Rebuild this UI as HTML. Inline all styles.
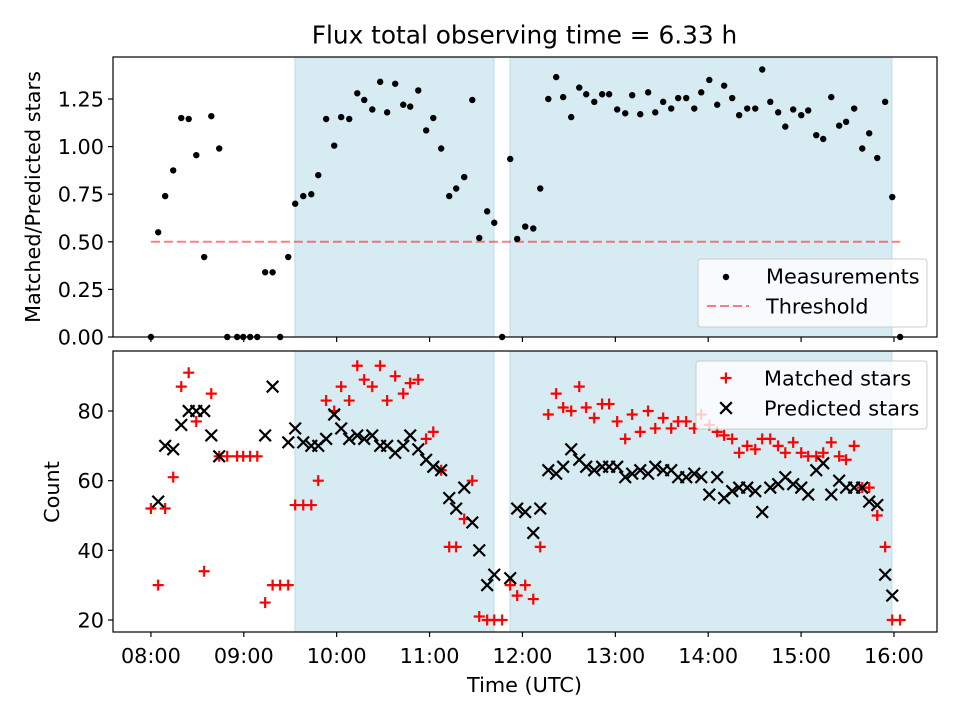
<!DOCTYPE html>
<html><head><meta charset="utf-8"><style>
body{margin:0;background:#fff;}
svg{display:block;font-family:"DejaVu Sans","Liberation Sans",sans-serif;}
</style></head><body>
<svg id="chart" width="960" height="720" viewBox="0 0 960 720" xmlns="http://www.w3.org/2000/svg"></svg>
<script>
// minutes since 08:00
const times=[0,4.7,9.2,14.4,19.6,24.4,29.3,34.4,39.0,44.1,49.3,55.7,59.6,64.1,68.7,73.8,78.6,83.5,88.7,93.2,98.4,103.6,108.1,113.2,118.4,122.9,128.1,133.3,137.8,143.0,148.1,152.6,157.8,163.0,167.5,172.7,177.8,182.4,187.5,192.7,197.2,202.4,207.6,212.1,217.2,221.8,226.9,232.1,236.6,241.8,247.0,251.5,256.7,261.8,266.3,271.5,276.7,281.2,286.4,291.5,296.0,301.2,306.4,310.9,316.1,321.2,325.8,330.9,336.1,340.6,345.8,351.0,355.5,360.7,365.8,370.3,375.5,380.0,385.2,390.4,394.9,400.1,405.2,409.8,414.9,420.1,424.6,429.8,434.3,439.5,444.6,449.1,454.3,459.5,464.0,469.2,474.3,478.9,484.0];
const ratio=[0,0.55,0.74,0.875,1.15,1.145,0.955,0.42,1.16,0.99,0,0,0,0,0,0.34,0.34,0,0.42,0.70,0.74,0.75,0.85,1.145,1.005,1.155,1.145,1.28,1.245,1.195,1.34,1.18,1.33,1.22,1.21,1.295,1.085,1.15,0.99,0.74,0.78,0.84,1.245,0.52,0.66,0.60,0,0.935,0.515,0.58,0.57,0.78,1.25,1.365,1.26,1.155,1.31,1.275,1.235,1.275,1.275,1.195,1.175,1.27,1.17,1.285,1.18,1.235,1.20,1.255,1.255,1.20,1.285,1.35,1.22,1.32,1.255,1.165,1.20,1.20,1.405,1.235,1.18,1.105,1.195,1.165,1.19,1.06,1.04,1.26,1.11,1.13,1.20,0.99,1.07,0.94,1.235,0.735,0];
const matched=[52,30,52,61,87,91,77,34,85,67,67,67,67,67,67,25,30,30,30,53,53,53,60,83,80,87,83,93,89,87,93,83,90,85,88,89,72,74,63,41,41,49,60,21,20,20,20,30,27,30,26,41,79,85,81,80,87,81,78,82,82,77,72,79,74,80,75,78,75,77,77,75,79,76,74,73,72,68,70,69,72,72,70,68,71,68,67,67,68,71,67,66,70,58,58,50,41,20,20];
const predicted=[null,54,70,69,76,80,80,80,73,67,null,null,null,null,null,73,87,null,71,75,71,70,70,72,79,75,72,73,72,73,70,70,68,70,73,69,66,64,63,55,52,58,48,40,30,33,null,32,52,51,45,52,63,62,64,69,66,64,63,64,64,64,61,62,63,62,64,63,63,61,61,62,61,56,61,55,57,58,58,57,51,58,59,61,59,58,56,63,65,56,60,58,58,58,54,53,33,27,null];
const xTickLabels=["08:00","09:00","10:00","11:00","12:00","13:00","14:00","15:00","16:00"];
const xTickMins=[0,60,120,180,240,300,360,420,480];
const topTicks=[0,0.25,0.5,0.75,1.0,1.25];
const botTicks=[20,40,60,80];
const spans=[[93.0,221.6],[231.9,478.7]];
const threshold=0.5;

const svg=document.getElementById('chart');
const NS="http://www.w3.org/2000/svg";
const FS=20.8;
function mk(t,a,parent){const e=document.createElementNS(NS,t);for(const k in a)e.setAttribute(k,a[k]);(parent||svg).appendChild(e);return e;}
const L=113,R=937;
const xMin=-24.5,xMax=507.8;
const X=m=>L+(m-xMin)/(xMax-xMin)*(R-L);
const T={top:57,bot:337,min:0,max:1.4706};
const B={top:351,bot:632,min:16.55,max:97.23};
const YT=v=>T.bot-(v-T.min)/(T.max-T.min)*(T.bot-T.top);
const YB=v=>B.bot-(v-B.min)/(B.max-B.min)*(B.bot-B.top);

function panel(P,Y,ticks,fmt,name){
  const g=mk('g',{});
  
  
  spans.forEach((s,i)=>{
    const r=mk('rect',{x:X(s[0]),y:P.top,width:X(s[1])-X(s[0]),height:P.bot-P.top,fill:'#add8e6','fill-opacity':0.5,stroke:'#add8e6','stroke-opacity':0.8,'stroke-width':1},g);
    
    
  });
  ticks.forEach(v=>{
    const y=Y(v);
    mk('line',{x1:L-5,x2:L,y1:y,y2:y,stroke:'#000','stroke-width':1.2},g);
    const t=mk('text',{x:L-9,y:y+7.5,'text-anchor':'end','font-size':FS,fill:'#000'},g);
    t.textContent=fmt(v);
    
    
  });
  xTickMins.forEach(m=>mk('line',{x1:X(m),x2:X(m),y1:P.bot,y2:P.bot+5,stroke:'#000','stroke-width':1.2},g));
  return g;
}
const gTop=panel(T,YT,topTicks,v=>v.toFixed(2),'top-panel');
const gBot=panel(B,YB,botTicks,v=>String(v),'bottom-panel');

const th=mk('line',{x1:X(times[0]),x2:X(times[times.length-1]),y1:YT(threshold),y2:YT(threshold),stroke:'#ff0000','stroke-opacity':0.5,'stroke-width':2,'stroke-dasharray':'9,4'},gTop);



times.forEach((m,i)=>{
  const c=mk('circle',{cx:X(m),cy:YT(ratio[i]),r:3.2,fill:'#000'},gTop);
  
  
});
times.forEach((m,i)=>{
  if(matched[i]==null)return;
  const x=X(m),y=YB(matched[i]),s=5.5;
  const p=mk('path',{d:`M${x-s},${y}H${x+s}M${x},${y-s}V${y+s}`,stroke:'#ff0000','stroke-width':2.2,fill:'none'},gBot);
  
  
});
times.forEach((m,i)=>{
  if(predicted[i]==null)return;
  const x=X(m),y=YB(predicted[i]),s=5.8;
  const p=mk('path',{d:`M${x-s},${y-s}L${x+s},${y+s}M${x-s},${y+s}L${x+s},${y-s}`,stroke:'#000','stroke-width':2.2,fill:'none'},gBot);
  
  
});

[[T,'top-frame'],[B,'bottom-frame']].forEach(([P,n])=>{
  const r=mk('rect',{x:L,y:P.top,width:R-L,height:P.bot-P.top,fill:'none',stroke:'#000','stroke-width':1.2});
  
  
});
xTickLabels.forEach((lab,i)=>{
  const t=mk('text',{x:X(xTickMins[i]),y:663,'text-anchor':'middle','font-size':FS,fill:'#000'});
  t.textContent=lab;
  
  
});
function txt(s,a,name){const t=mk('text',a);t.textContent=s;return t;}
txt('Flux total observing time = 6.33 h',{x:524.5,y:43.5,'text-anchor':'middle','font-size':24.8,fill:'#000'},'chart-title');
txt('Time (UTC)',{x:524.5,y:692,'text-anchor':'middle','font-size':FS,fill:'#000'},'x-axis-title');
txt('Matched/Predicted stars',{x:0,y:0,'text-anchor':'middle','font-size':FS,fill:'#000',transform:'translate(40,197) rotate(-90)'},'top-y-axis-title');
txt('Count',{x:0,y:0,'text-anchor':'middle','font-size':FS,fill:'#000',transform:'translate(59,492) rotate(-90)'},'bottom-y-axis-title');

function legend(x,y,w,h,entries,name){
  const g=mk('g',{});
  
  
  mk('rect',{x,y,width:w,height:h,rx:3,fill:'#fff','fill-opacity':0.8,stroke:'#ccc','stroke-width':1},g);
  entries.forEach((e,i)=>{
    const cy=y+17+i*30,mx=x+30;
    if(e.k==='dot')mk('circle',{cx:mx-2,cy:cy+1,r:3.2,fill:'#000'},g);
    if(e.k==='dash')mk('line',{x1:x+9,x2:x+51,y1:cy,y2:cy,stroke:'#ff0000','stroke-opacity':0.5,'stroke-width':2,'stroke-dasharray':'9,4'},g);
    if(e.k==='plus')mk('path',{d:`M${mx-5.5},${cy}H${mx+5.5}M${mx},${cy-5.5}V${cy+5.5}`,stroke:'#f00','stroke-width':2.2},g);
    if(e.k==='x')mk('path',{d:`M${mx-5.8},${cy-5.8}L${mx+5.8},${cy+5.8}M${mx-5.8},${cy+5.8}L${mx+5.8},${cy-5.8}`,stroke:'#000','stroke-width':2.2},g);
    const t=mk('text',{x:x+68,y:cy+7.5,'font-size':FS,fill:'#000'},g);
    t.textContent=e.t;
    
    
  });
}
legend(698,259,229,68,[{k:'dot',t:'Measurements'},{k:'dash',t:'Threshold'}],'top-legend');
legend(696,361,231,68,[{k:'plus',t:'Matched stars'},{k:'x',t:'Predicted stars'}],'bottom-legend');
</script>
</body></html>
